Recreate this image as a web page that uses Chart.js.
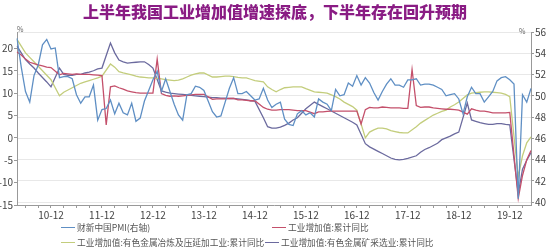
<!DOCTYPE html>
<html>
<head>
<meta charset="utf-8">
<script src="https://cdn.jsdelivr.net/npm/chart.js@4"></script>
<style>
html,body{margin:0;padding:0;background:#fff;}
#wrap{position:relative;width:550px;height:252px;font-family:"Noto Sans CJK SC","Noto Sans",sans-serif;}
#ttl{position:absolute;left:0;top:1px;width:550px;text-align:center;font-size:16px;font-weight:900;color:#8a1c84;line-height:20px;}
.unit{position:absolute;font-size:7px;color:#666;line-height:8px;}
.it{position:absolute;white-space:nowrap;font-size:8.7px;color:#555;line-height:12px;}
.it i{display:inline-block;width:14px;height:1.5px;vertical-align:middle;margin-right:2px;position:relative;top:-1px;}
</style>
</head>
<body>
<div id="wrap">
  <canvas id="c" width="550" height="252"></canvas>
  <div id="ttl">上半年我国工业增加值增速探底，下半年存在回升预期</div>
  <span class="unit" style="left:17px;top:25px">%</span>
  <span class="unit" style="left:519px;top:27px">%</span>
  <div id="lg"></div>
</div>
<script>
// ── DATA ──────────────────────────────────────────────────────
var startYear=2010, startMonth=4, endYear=2020, endMonth=5;
var xTickLabels=['10-12','11-12','12-12','13-12','14-12','15-12','16-12','17-12','18-12','19-12'];
var leftTicks=[-15,-10,-5,0,5,10,15,20];
var rightTicks=[40,42,44,46,48,50,52,54,56];

var seriesNames=['财新中国PMI(右轴)','工业增加值:累计同比','工业增加值:有色金属冶炼及压延加工业:累计同比','工业增加值:有色金属矿采选业:累计同比'];
var seriesColors=['#5f8fc4','#c4506b','#c3cd7c','#6b6a9e'];

// 2010-04 .. 2020-05, one value per month
var pmi=[
  55.4,52.7,50.4,49.4,51.9,52.9,54.8,55.3,54.4,
  54.5,51.7,51.8,51.8,51.6,50.1,49.3,49.9,49.9,51.0,47.7,48.7,
  48.8,49.6,48.3,49.3,48.4,48.2,49.3,47.6,47.9,49.5,50.5,51.5,
  52.3,50.4,51.6,50.4,49.2,48.2,47.7,50.1,50.2,50.9,50.8,50.5,
  49.5,48.5,48.0,48.1,49.4,50.7,51.7,50.2,50.2,50.4,50.0,49.6,
  49.7,50.7,49.6,48.9,49.2,49.4,47.8,47.3,47.2,48.3,48.6,48.2,
  48.4,48.0,49.7,49.4,49.2,48.6,50.6,50.0,50.1,51.2,50.9,51.9,
  51.0,51.7,51.2,50.3,49.6,50.4,51.1,51.6,51.0,51.0,50.8,51.5,
  51.5,51.6,51.0,51.1,51.1,51.0,50.8,50.6,50.0,50.1,50.2,49.7,
  48.3,49.9,50.8,50.2,50.2,49.4,49.9,50.4,51.4,51.7,51.8,51.5,
  51.1,40.3,50.1,49.4,50.7
];
var industry=[
  19.2,18.5,17.6,16.9,16.6,16.3,16.1,15.8,15.7,
  null,14.1,14.4,14.3,14.2,14.3,14.2,14.2,14.2,14.1,14.0,13.9,
  2.9,11.4,11.6,11.2,10.9,10.5,10.3,10.1,10.0,10.0,10.0,10.0,
  17.6,9.9,9.5,9.3,9.4,9.3,9.4,9.5,9.6,9.7,9.7,9.7,
  null,8.6,8.7,8.7,8.7,8.8,8.8,8.5,8.5,8.4,8.3,8.3,
  null,6.8,6.4,6.2,6.2,6.3,6.3,6.3,6.2,6.1,6.1,6.1,
  null,5.4,5.8,5.8,5.9,6.0,6.0,6.0,6.0,6.0,6.0,6.0,
  3.1,6.3,6.8,6.7,6.7,6.9,6.8,6.7,6.7,6.7,6.6,6.6,
  15.3,7.2,6.8,6.9,6.9,6.7,6.6,6.5,6.4,6.4,6.3,6.2,
  null,5.3,6.5,6.2,6.0,6.0,5.8,5.6,5.6,5.6,5.6,5.7,
  null,-13.5,-8.4,-4.9,-2.8
];
var smelting=[
  22,20.5,19,18,17,16,15,14,13,
  null,9.4,10.2,10.7,11.2,11.7,12.2,12.5,12.8,13.1,13.4,13.8,
  null,16.5,15.8,14.8,14.5,14.3,14.1,13.8,13.6,13.5,13.4,13.4,
  null,13.2,13,12.9,12.8,12.9,13.2,13.6,14,14.3,14.5,14.5,
  null,13.6,13.6,13.7,13.8,13.8,13.7,13.5,13.4,13.4,13.1,12.8,
  null,12.5,11.4,10.8,10.3,10.8,11.2,11.3,11.4,11.4,11.4,11,
  null,10.3,10.2,10.1,10,9.6,9.2,8.7,8,7.5,7,6.2,
  null,0,1.3,1.8,2.2,2.2,2,1.6,1.4,1.2,1.1,1.1,
  null,2.5,3.3,3.9,4.5,5.1,5.5,5.9,6.2,6.9,7.4,8,
  null,9.6,10,10.1,10.2,10.3,10.3,10.2,10.1,10,9.7,9.2,
  null,-8.7,-4,-1.1,0.2
];
var mining=[
  20.5,19,17.5,16.5,15.6,14.5,13.5,12.5,11.4,
  null,15.6,14.2,14,14,14.2,14.2,14.5,14.7,15,15.4,15.6,
  null,21.2,19,17.4,17,16.7,16.8,16.9,17,17,16.4,15.6,
  null,10.5,10.2,10,9.9,9.8,9.7,9.6,9.5,9.4,9.3,9.2,
  null,9,9,8.9,8.9,8.8,8.8,8.7,8.6,8.5,8.3,8.2,
  null,4.5,2.5,2.2,2.2,2.4,2.8,3.3,4,4.5,5.5,6.5,
  null,8,7.5,7,6.5,6,5.5,5,4.5,4,3.5,2.9,
  null,-1.3,-2,-2.5,-3,-3.5,-4,-4.5,-4.8,-4.9,-4.8,-4.6,
  null,-4,-3.2,-2.6,-2.2,-1.7,-1.2,-0.4,0,0.4,0.9,1.3,
  null,7.8,4,3.7,3.4,3.2,3,3,3.2,3.2,3,2.9,
  null,-12.5,-7,-5,-3.3
];

// month labels yy-mm
var months=[];
(function(){
  var y=startYear,m=startMonth;
  while(y<endYear||(y===endYear&&m<=endMonth)){
    months.push(String(y).slice(2)+'-'+(m<10?'0'+m:m));
    m++; if(m>12){m=1;y++;}
  }
})();

// ── LEGEND (html) ─────────────────────────────────────────────
var lgPos=[[61,222],[272,222],[61,237],[265,237]];
document.getElementById('lg').innerHTML=seriesNames.map(function(n,i){
  return '<div class="it" style="left:'+lgPos[i][0]+'px;top:'+lgPos[i][1]+'px"><i style="background:'+seriesColors[i]+'"></i>'+n+'</div>';
}).join('');

// ── CHART ─────────────────────────────────────────────────────
var tickFont={family:'"Noto Sans CJK SC","Noto Sans",sans-serif',size:10};
function ds(label,data,color,axis){
  return {label:label,data:data,borderColor:color,backgroundColor:color,borderWidth:1.3,
    pointRadius:0,pointHoverRadius:0,tension:0,spanGaps:true,yAxisID:axis};
}
new Chart(document.getElementById('c').getContext('2d'),{
  type:'line',
  data:{
    labels:months,
    datasets:[
      ds(seriesNames[0],pmi,seriesColors[0],'y1'),
      ds(seriesNames[1],industry,seriesColors[1],'y'),
      ds(seriesNames[2],smelting,seriesColors[2],'y'),
      ds(seriesNames[3],mining,seriesColors[3],'y')
    ]
  },
  options:{
    responsive:false,
    animation:false,
    layout:{padding:{top:32,bottom:30,left:0,right:0}},
    plugins:{legend:{display:false},title:{display:false},tooltip:{enabled:false}},
    scales:{
      x:{
        type:'category',offset:false,
        grid:{drawOnChartArea:false,tickLength:3,
          color:function(c){var mm=months[c.index]?months[c.index].slice(3):'';return (mm==='03'||mm==='06'||mm==='09'||mm==='12')?'#999':'rgba(0,0,0,0)';}},
        border:{color:'#999'},
        ticks:{autoSkip:false,maxRotation:0,minRotation:0,padding:1,color:'#444',font:tickFont,
          callback:function(v,i){return xTickLabels.indexOf(months[i])>=0?months[i]:'';}},
        afterFit:function(s){s.height=17;}
      },
      y:{
        position:'left',min:-15,max:23.66,
        afterBuildTicks:function(s){s.ticks=leftTicks.map(function(v){return {value:v};});},
        grid:{drawOnChartArea:false,tickLength:3,color:'#999'},
        border:{color:'#999'},
        ticks:{padding:1,color:'#444',font:tickFont},
        afterFit:function(s){s.width=17;}
      },
      y1:{
        position:'right',min:39.72,max:56,
        afterBuildTicks:function(s){s.ticks=rightTicks.map(function(v){return {value:v};});},
        grid:{drawOnChartArea:true,tickLength:3,color:'#e8e8e8',tickColor:'#999'},
        border:{color:'#999'},
        ticks:{padding:1,color:'#444',font:tickFont},
        afterFit:function(s){s.width=19;}
      }
    }
  }
});
</script>
</body>
</html>
